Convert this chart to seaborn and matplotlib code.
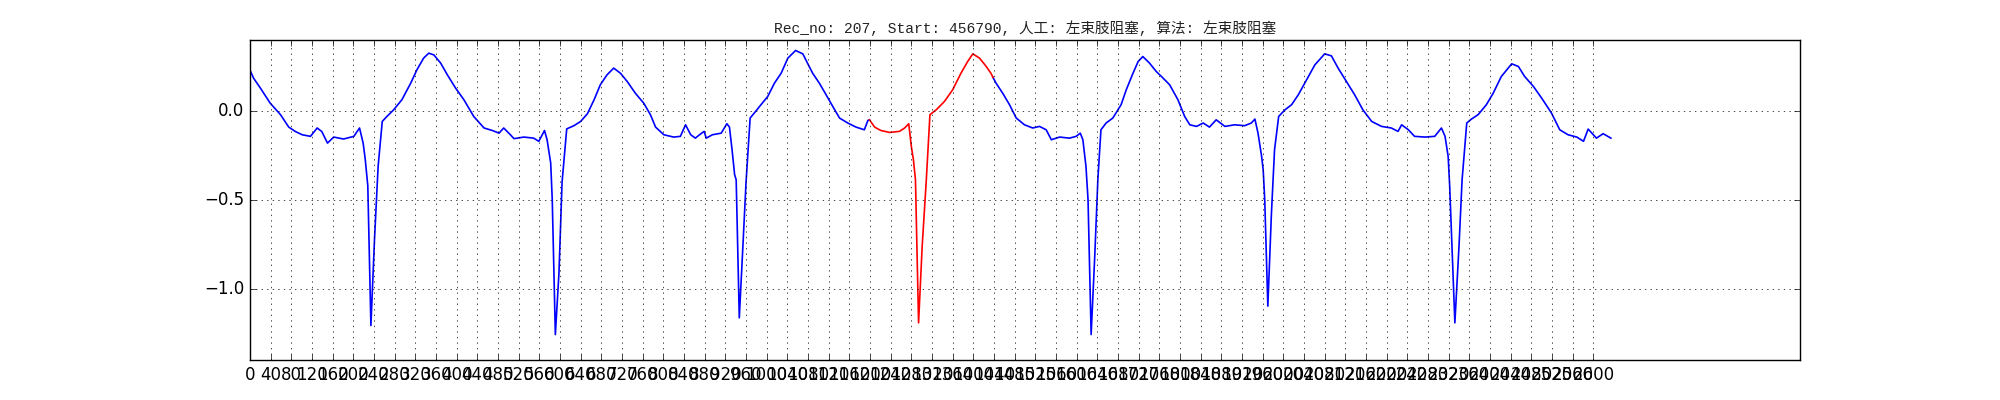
import numpy as np
import pandas as pd
import matplotlib
matplotlib.use("Agg")
import matplotlib.pyplot as plt
import seaborn as sns

# ── Data ────────────────────────────────────────────────
REC_NO = 207
START = 456790
LABEL_MANUAL = "左束肢阻塞"
LABEL_ALGO = "左束肢阻塞"
N_SAMPLES = 2640
TICK_STEP = 40

# highlighted beat window (drawn in red)
MARK_START = 1199
MARK_END = 1438

sample = [
    0, 7, 20, 39, 59, 75, 88, 101, 117, 130, 139, 150, 162, 181, 201, 212,
    219, 223, 228, 234, 241, 248, 256, 265, 278, 294, 311, 323, 336, 346,
    356, 369, 382, 398, 414, 433, 453, 469, 482, 491, 504, 511, 530, 549,
    559, 570, 575, 582, 585, 591, 598, 604, 613, 627, 640, 653, 666, 678,
    691, 704, 717, 730, 746, 762, 775, 785, 801, 820, 833, 843, 853, 862,
    870, 879, 883, 895, 912, 923, 928, 933, 938, 941, 947, 954, 960, 968,
    976, 989, 1002, 1015, 1028, 1041, 1056, 1070, 1079, 1089, 1102, 1115,
    1128, 1141, 1157, 1173, 1189, 1196, 1199, 1209, 1221, 1238, 1257, 1267,
    1275, 1280, 1284, 1288, 1294, 1301, 1309, 1316, 1328, 1344, 1360, 1376,
    1389, 1399, 1412, 1425, 1434, 1438, 1444, 1457, 1470, 1483, 1499, 1515,
    1528, 1541, 1551, 1567, 1586, 1599, 1607, 1612, 1618, 1622, 1628, 1635,
    1641, 1647, 1657, 1670, 1686, 1696, 1709, 1719, 1728, 1741, 1754, 1764,
    1780, 1796, 1809, 1819, 1832, 1845, 1857, 1870, 1887, 1906, 1925, 1938,
    1945, 1951, 1958, 1961, 1964, 1970, 1977, 1983, 1991, 2003, 2016, 2029,
    2045, 2061, 2080, 2093, 2106, 2122, 2138, 2154, 2171, 2190, 2209, 2222,
    2229, 2242, 2254, 2274, 2293, 2306, 2313, 2319, 2322, 2332, 2340, 2346,
    2355, 2364, 2377, 2393, 2406, 2422, 2442, 2455, 2467, 2484, 2500, 2519,
    2535, 2551, 2568, 2581, 2590, 2606, 2619, 2634,
]
signal = [
    0.23, 0.185, 0.13, 0.045, -0.02, -0.09, -0.115, -0.133, -0.142, -0.095,
    -0.115, -0.18, -0.146, -0.157, -0.142, -0.095, -0.18, -0.27, -0.42,
    -1.206, -0.72, -0.31, -0.058, -0.03, 0.007, 0.064, 0.157, 0.232, 0.298,
    0.326, 0.316, 0.27, 0.204, 0.129, 0.064, -0.03, -0.095, -0.109, -0.124,
    -0.095, -0.133, -0.155, -0.146, -0.152, -0.17, -0.109, -0.161, -0.292,
    -0.498, -1.257, -0.91, -0.40, -0.10, -0.082, -0.058, -0.015, 0.064,
    0.148, 0.204, 0.242, 0.213, 0.167, 0.10, 0.045, -0.02, -0.09, -0.133,
    -0.146, -0.142, -0.077, -0.133, -0.152,
    -0.133, -0.114, -0.152, -0.133, -0.124, -0.071, -0.09, -0.217, -0.358,
    -0.386, -1.163, -0.76, -0.404, -0.039, -0.011, 0.036, 0.082, 0.157,
    0.213, 0.298, 0.341, 0.322, 0.27, 0.213, 0.157, 0.092, 0.026, -0.039,
    -0.067, -0.09, -0.105, -0.052, -0.049, -0.09, -0.109, -0.12, -0.114,
    -0.095, -0.071, -0.199, -0.273, -0.386, -1.191, -0.76, -0.386, -0.02,
    0.007, 0.054, 0.12, 0.213, 0.279, 0.322, 0.298, 0.251, 0.213, 0.19,
    0.157, 0.10, 0.036, -0.039, -0.077, -0.095, -0.086, -0.105, -0.161,
    -0.146, -0.152, -0.142, -0.124, -0.161, -0.311, -0.498, -1.257, -0.816,
    -0.386, -0.105, -0.067, -0.039, 0.036, 0.12, 0.213, 0.279, 0.307, 0.27,
    0.223, 0.195,
    0.148, 0.064, -0.03, -0.077, -0.086, -0.067, -0.09, -0.049, -0.086,
    -0.077, -0.082, -0.067, -0.045, -0.124, -0.255, -0.33, -0.498, -1.097,
    -0.573, -0.217, -0.03, 0.007, 0.036, 0.092, 0.176, 0.26, 0.322, 0.311,
    0.242, 0.167, 0.092, 0.007, -0.058, -0.086, -0.095, -0.114, -0.077,
    -0.105, -0.142, -0.146, -0.142, -0.095, -0.142, -0.255, -0.423, -1.191,
    -0.76, -0.386, -0.067, -0.045, -0.02, 0.036, 0.10, 0.195, 0.266, 0.251,
    0.195, 0.139, 0.073, -0.011, -0.105, -0.133, -0.146, -0.17, -0.101,
    -0.152, -0.127, -0.152,
]

# ── Build segments (boundary points shared) ─────────────
df = pd.DataFrame({"sample": sample, "mv": signal})
parts = [
    df[df["sample"] <= MARK_START].assign(seg=0, kind="normal"),
    df[(df["sample"] >= MARK_START) & (df["sample"] <= MARK_END)].assign(seg=1, kind="marked"),
    df[df["sample"] >= MARK_END].assign(seg=2, kind="normal"),
]
plot_df = pd.concat(parts, ignore_index=True)

# ── Plot ────────────────────────────────────────────────
plt.style.use("classic")
fig, ax = plt.subplots(figsize=(20, 4), dpi=100)
fig.patch.set_facecolor("white")

sns.lineplot(data=plot_df, x="sample", y="mv", hue="kind", units="seg",
             estimator=None, sort=False, palette={"normal": "b", "marked": "r"},
             legend=False, lw=1.2, ax=ax)

ax.set_xlim(0, 3000)
ax.set_ylim(-1.4, 0.4)
ax.set_xticks(np.arange(0, N_SAMPLES, TICK_STEP))
ax.grid(True)
ax.set_xlabel("")
ax.set_ylabel("")

title = f"Rec_no: {REC_NO}, Start: {START}, 人工: {LABEL_MANUAL}, 算法: {LABEL_ALGO}"
ax.set_title(title, fontsize=10.5, color="#222222",
             family=["Liberation Mono", "Noto Sans CJK SC"])

fig.savefig("out.png", dpi=100, facecolor="white")
